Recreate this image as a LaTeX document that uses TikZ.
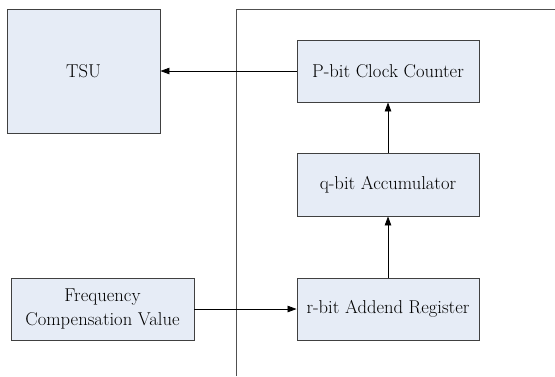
\documentclass[tikz,border=0pt]{standalone}
\usetikzlibrary{arrows.meta}
\definecolor{boxfill}{RGB}{230,236,246}
\definecolor{boxline}{RGB}{64,64,64}
\definecolor{frameline}{RGB}{80,80,80}
\begin{document}
\begin{tikzpicture}[x=1pt,y=-1pt,
  blk/.style={draw=boxline,line width=0.9pt,fill=boxfill,rectangle,inner sep=0pt,
    font=\fontsize{18.6}{23.5}\selectfont,align=center},
  conn/.style={draw=black,line width=0.8pt,-{Triangle[length=9pt,width=6.5pt]}}]
\useasboundingbox (0,0) rectangle (555,376);
\draw[frameline,line width=0.9pt] (236,376) -- (236,9) -- (556,9);
\node[blk,minimum width=153pt,minimum height=124pt] (tsu) at (83.5,71) {TSU};
\node[blk,minimum width=182pt,minimum height=62pt] (cnt) at (388,71) {P-bit Clock Counter};
\node[blk,minimum width=182pt,minimum height=63pt] (acc) at (388,184.5) {q-bit Accumulator};
\node[blk,minimum width=182pt,minimum height=62pt] (reg) at (388,309) {r-bit Addend Register};
\node[blk,minimum width=183pt,minimum height=62pt] (fcv) at (102.5,309) {Frequency\\Compensation Value};
\draw[conn] (cnt.west) -- (tsu.east);
\draw[conn] (acc.north) -- (cnt.south);
\draw[conn] (reg.north) -- (acc.south);
\draw[conn] (fcv.east) -- (reg.west);
\end{tikzpicture}
\end{document}
